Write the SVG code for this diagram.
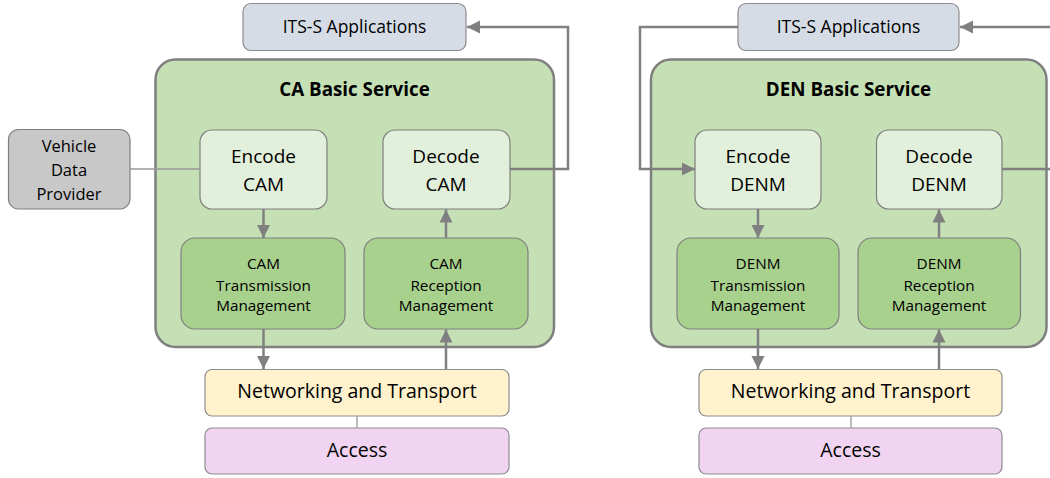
<svg xmlns="http://www.w3.org/2000/svg" width="1050" height="478" viewBox="0 0 1050 478">
<defs>
<style>
text{font-family:"Open Sans","Liberation Sans",sans-serif;fill:#000;text-anchor:middle}
.svc{fill:#c5e0b4;stroke:#7f7f7f;stroke-width:2.5}
.codec{fill:#e2efda;stroke:#7f7f7f;stroke-width:1.2}
.mgmt{fill:#a9d18e;stroke:#7f7f7f;stroke-width:1.2}
.app{fill:#d6dce5;stroke:#8c8c8c;stroke-width:1.2}
.net{fill:#fff2cc;stroke:#8c8c8c;stroke-width:1.2}
.acc{fill:#f0d4f2;stroke:#8c8c8c;stroke-width:1.2}
.vdp{fill:#c8c8c8;stroke:#7f7f7f;stroke-width:1.2}
.t16{font-size:17.5px}
.t19{font-size:19px}
.tn{font-size:19.5px}
.t15{font-size:15.3px}
.tv{font-size:16.5px}
.title{font-size:18.8px;font-weight:bold}
.arr{fill:none;stroke:#808080;stroke-width:2.5;marker-end:url(#ah)}
.ln{fill:none;stroke:#808080;stroke-width:2.5}
.thin{fill:none;stroke:#999;stroke-width:1.3}
</style>
<marker id="ah" markerUnits="userSpaceOnUse" markerWidth="14" markerHeight="14" viewBox="0 0 14 14" refX="13" refY="7" orient="auto">
<path d="M0,0.5 L13,7 L0,13.5 Z" fill="#808080"/>
</marker>
</defs>

<g id="its-apps-left">
<rect class="app" x="243" y="3.5" width="223" height="47" rx="8"/>
<text class="t16" x="354.5" y="33">ITS-S Applications</text>
</g>
<g id="ca-basic-service">
<rect class="svc" x="155.5" y="59.5" width="398.5" height="287.5" rx="20"/>
<text class="title" x="354.5" y="95.5">CA Basic Service</text>
</g>
<g id="vehicle-data-provider">
<rect class="vdp" x="8.5" y="129.5" width="121.5" height="79.5" rx="10"/>
<text class="tv" x="69" y="152">Vehicle</text>
<text class="tv" x="69" y="176">Data</text>
<text class="tv" x="69" y="199.5">Provider</text>
</g>
<g id="encode-cam">
<rect class="codec" x="200" y="130" width="127" height="79" rx="12"/>
<text class="t19" x="263.5" y="163">Encode</text>
<text class="t19" x="263.5" y="190.5">CAM</text>
</g>
<g id="decode-cam">
<rect class="codec" x="383" y="130" width="127" height="79" rx="12"/>
<text class="t19" x="446" y="163">Decode</text>
<text class="t19" x="446" y="190.5">CAM</text>
</g>
<g id="cam-transmission">
<rect class="mgmt" x="181" y="238" width="164" height="91" rx="14"/>
<text class="t15" x="263.5" y="269">CAM</text>
<text class="t15" x="263.5" y="290.5">Transmission</text>
<text class="t15" x="263.5" y="310.5">Management</text>
</g>
<g id="cam-reception">
<rect class="mgmt" x="364" y="238" width="164" height="91" rx="14"/>
<text class="t15" x="446" y="269">CAM</text>
<text class="t15" x="446" y="290.5">Reception</text>
<text class="t15" x="446" y="310.5">Management</text>
</g>
<g id="net-left">
<rect class="net" x="205" y="369.5" width="304" height="46.5" rx="7"/>
<text class="tn" x="357" y="398">Networking and Transport</text>
</g>
<g id="access-left">
<rect class="acc" x="205" y="428" width="304" height="46" rx="7"/>
<text class="tn" x="357" y="457">Access</text>
</g>

<g id="its-apps-right">
<rect class="app" x="738" y="3.5" width="221" height="47" rx="8"/>
<text class="t16" x="848.5" y="33">ITS-S Applications</text>
</g>
<g id="den-basic-service">
<rect class="svc" x="651" y="59.5" width="395.5" height="287.5" rx="20"/>
<text class="title" x="848.5" y="95.5">DEN Basic Service</text>
</g>
<g id="encode-denm">
<rect class="codec" x="695" y="130" width="126" height="79" rx="12"/>
<text class="t19" x="758" y="163">Encode</text>
<text class="t19" x="758" y="190.5">DENM</text>
</g>
<g id="decode-denm">
<rect class="codec" x="876.5" y="130" width="125.5" height="79" rx="12"/>
<text class="t19" x="939" y="163">Decode</text>
<text class="t19" x="939" y="190.5">DENM</text>
</g>
<g id="denm-transmission">
<rect class="mgmt" x="677" y="238" width="162" height="91" rx="14"/>
<text class="t15" x="758" y="269">DENM</text>
<text class="t15" x="758" y="290.5">Transmission</text>
<text class="t15" x="758" y="310.5">Management</text>
</g>
<g id="denm-reception">
<rect class="mgmt" x="858" y="238" width="162.5" height="91" rx="14"/>
<text class="t15" x="939" y="269">DENM</text>
<text class="t15" x="939" y="290.5">Reception</text>
<text class="t15" x="939" y="310.5">Management</text>
</g>
<g id="net-right">
<rect class="net" x="699" y="369.5" width="303" height="46.5" rx="7"/>
<text class="tn" x="850.5" y="398">Networking and Transport</text>
</g>
<g id="access-right">
<rect class="acc" x="699" y="428" width="303" height="46" rx="7"/>
<text class="tn" x="850.5" y="457">Access</text>
</g>

<g id="connectors">
<line class="thin" x1="130" y1="169" x2="200" y2="169"/>
<polyline class="arr" points="510,169 568,169 568,27 467,27"/>
<line class="arr" x1="263.5" y1="209" x2="263.5" y2="238"/>
<line class="arr" x1="446" y1="238" x2="446" y2="209.5"/>
<line class="arr" x1="263.5" y1="329" x2="263.5" y2="369"/>
<line class="arr" x1="446" y1="369" x2="446" y2="329.5"/>
<line class="thin" x1="357" y1="416" x2="357" y2="428"/>
<polyline class="arr" points="738,27 640,27 640,169 695,169"/>
<line class="arr" x1="1052" y1="27" x2="960" y2="27"/>
<line class="ln" x1="1002" y1="169" x2="1052" y2="169"/>
<line class="arr" x1="758" y1="209" x2="758" y2="238"/>
<line class="arr" x1="939" y1="238" x2="939" y2="209.5"/>
<line class="arr" x1="758" y1="329" x2="758" y2="369"/>
<line class="arr" x1="939" y1="369" x2="939" y2="329.5"/>
<line class="thin" x1="851" y1="416" x2="851" y2="428"/>
</g>
</svg>
